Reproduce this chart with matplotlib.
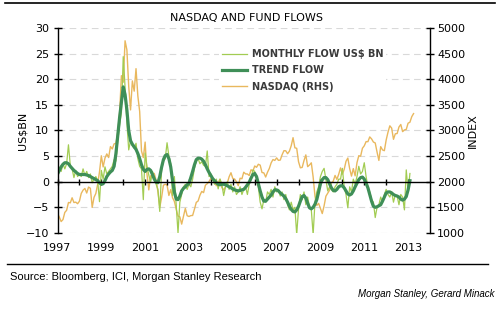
import numpy as np
import pandas as pd
import matplotlib
matplotlib.use("Agg")
import matplotlib.pyplot as plt
from matplotlib.lines import Line2D

# 월별 펀드 자금 흐름 (US$ bn), 1997-01 ~ 2013-02
monthly_flow = [
    0.0, 2.8, 2.0, 3.5, 2.5, 3.5, 7.2, 3.2, 2.5, 0.8, 2.2, 1.0,          # 1997
    1.5, 1.0, 2.5, 1.2, 2.0, 0.8, 1.5, -0.2, 0.5, 1.0, 0.2, -3.9,        # 1998
    2.2, 0.5, 2.9, 1.5, 2.0, 2.5, 3.0, 4.3, 4.0, 8.0, 11.0, 13.5,        # 1999
    24.4, 18.5, 11.5, 6.2, 8.0, 7.0, 6.5, 7.5, 4.5, 3.0, 2.5, -3.5,      # 2000
    5.6, 3.0, 1.3, -0.1, 2.0, 1.0, -0.5, -1.5, -5.8, 2.3, 4.0, 4.5,      # 2001
    7.6, 5.0, 3.5, -2.7, 1.0, -4.5, -10.0, -4.0, -2.5, -1.0, -0.5, -1.5, # 2002
    -0.5, -1.0, 0.5, 2.6, 4.0, 4.5, 3.5, 3.9, 3.2, 3.0, 6.0, 1.0,        # 2003
    1.5, 0.5, -0.5, 0.5, -1.4, 0.5, -0.5, -2.7, -1.0, 0.0, -1.5, -0.5,   # 2004
    -2.0, -1.0, -2.5, -2.0, -1.0, -2.5, -1.5, -1.0, -2.5, -0.5, 0.5, 2.3,  # 2005
    2.0, 0.5, -1.0, -4.0, -5.3, -3.5, -4.0, -2.0, -2.5, -1.5, -3.0, -1.0,  # 2006
    -2.0, -1.5, -2.8, -2.0, -3.5, -2.5, -4.5, -5.5, -4.0, -5.5, -5.0, -10.3,  # 2007
    -5.3, -2.5, -3.5, -2.0, -4.5, -3.0, -5.0, -5.5, -10.3, -4.0, -2.0, -1.0,  # 2008
    1.0, 2.0, 2.6, 0.4, -1.8, -1.0, -1.5, -2.0, -1.0, -0.5, 0.5, 0.5,    # 2009
    2.6, -1.0, -2.5, -5.1, -1.0, -2.0, 0.5, -0.5, 1.0, 3.0, 1.5, 2.0,    # 2010
    3.7, 1.0, -1.0, -2.0, -3.5, -4.0, -7.0, -5.0, -4.5, -3.0, -4.0, -2.5,  # 2011
    -1.5, -2.5, -3.0, -2.0, -4.0, -2.5, -2.8, -4.5, -2.5, -3.0, -5.5, 2.3,  # 2012
    -2.0, 1.6,                                                           # 2013
]

# 추세 (trend flow)
trend_flow = [
    1.5, 2.2, 2.9, 3.4, 3.7, 3.7, 3.5, 3.0, 2.6, 2.2, 1.9, 1.6,
    1.4, 1.4, 1.4, 1.4, 1.3, 1.2, 1.0, 0.8, 0.6, 0.4, 0.2, -0.2,
    -0.5, -0.4, 0.2, 1.0, 1.5, 1.9, 2.2, 3.0, 5.5, 9.0, 12.5, 15.5,
    18.5, 17.0, 14.0, 10.0, 8.0, 7.3, 6.8, 6.3, 5.5, 4.5, 3.3, 2.4,
    2.0, 2.4, 2.5, 2.2, 1.4, 0.5, -0.1, -0.2, 1.0, 2.8, 4.3, 5.1,
    5.3, 4.5, 2.9, 0.3, -2.0, -3.4, -3.5, -2.8, -1.8, -1.3, -1.0, -0.6,
    -0.3, 0.8, 2.0, 3.3, 4.3, 4.6, 4.6, 4.4, 4.0, 3.3, 2.5, 1.8,
    1.2, 0.6, 0.2, -0.2, -0.5, -0.6, -0.5, -0.5, -0.6, -0.8, -1.0, -1.2,
    -1.4, -1.6, -1.7, -1.8, -1.7, -1.6, -1.5, -1.1, -0.6, -0.1, 0.7, 1.4,
    1.6, 1.0, -0.4, -1.8, -3.0, -3.8, -3.8, -3.4, -3.0, -2.6, -2.0, -1.6,
    -1.6, -1.8, -2.2, -2.5, -2.8, -3.3, -4.0, -4.8, -5.4, -5.8, -5.9, -5.5,
    -4.8, -3.8, -2.9, -2.7, -3.2, -4.2, -5.1, -5.3, -5.0, -4.4, -3.5, -2.0,
    -0.4, 0.4, 0.8, 0.8, 0.4, -0.4, -1.2, -1.7, -1.8, -1.5, -1.0, -0.8,
    -0.8, -1.2, -1.8, -2.4, -2.6, -2.4, -1.8, -1.0, -0.3, 0.4, 0.8, 0.9,
    0.5, -0.3, -1.2, -2.5, -3.8, -4.8, -5.0, -4.9, -4.7, -4.5, -3.8, -3.0,
    -2.2, -2.0, -2.0, -2.2, -2.5, -2.7, -2.8, -3.0, -3.4, -3.6, -3.4, -2.9,
    -1.6, 0.2,
]

# 나스닥 지수 (RHS), 1997-01 ~ 2013-04
nasdaq = [
    1380, 1309, 1222, 1261, 1400, 1442, 1594, 1587, 1686, 1593, 1601, 1570,
    1619, 1771, 1835, 1868, 1779, 1895, 1872, 1499, 1694, 1771, 1950, 2193,
    2505, 2288, 2461, 2542, 2471, 2686, 2638, 2739, 2746, 2966, 3336, 4069,
    3940, 4750, 4573, 3861, 3401, 3966, 3767, 4206, 3673, 3370, 2598, 2471,
    2773, 2152, 1840, 2116, 2110, 2161, 2027, 1805, 1499, 1690, 1931, 1950,
    1934, 1731, 1845, 1688, 1616, 1463, 1328, 1315, 1172, 1330, 1479, 1336,
    1321, 1338, 1341, 1464, 1596, 1623, 1735, 1810, 1787, 1932, 1960, 2003,
    2066, 2030, 1994, 1920, 1987, 2048, 1887, 1838, 1897, 1975, 2097, 2175,
    2062, 2052, 1999, 1922, 2068, 2057, 2185, 2152, 2151, 2120, 2233, 2205,
    2306, 2281, 2340, 2323, 2179, 2172, 2091, 2184, 2258, 2367, 2432, 2415,
    2464, 2416, 2422, 2525, 2605, 2603, 2546, 2596, 2702, 2859, 2661, 2652,
    2390, 2271, 2279, 2413, 2523, 2293, 2326, 2368, 2092, 1721, 1536, 1577,
    1476, 1378, 1529, 1717, 1774, 1835, 1979, 2009, 2122, 2045, 2145, 2269,
    2147, 2238, 2398, 2461, 2257, 2109, 2255, 2114, 2369, 2507, 2498, 2653,
    2700, 2782, 2781, 2874, 2835, 2774, 2756, 2579, 2415, 2684, 2620, 2605,
    2814, 2967, 3091, 3046, 2827, 2935, 2940, 3067, 3116, 2977, 3010, 3020,
    3142, 3160, 3268, 3329,
]

year_labels = ["1997", "1999", "2001", "2003", "2005", "2007", "2009", "2011", "2013"]


def to_year(dates):
    return dates.year + (dates.month - 1) / 12.0


flow_x = to_year(pd.date_range("1997-01", periods=len(monthly_flow), freq="MS"))
trend_x = to_year(pd.date_range("1997-01", periods=len(trend_flow), freq="MS"))
nasdaq_x = to_year(pd.date_range("1997-01", periods=len(nasdaq), freq="MS"))

c_monthly = "#a2cc52"
c_trend = "#3f8f58"
c_nasdaq = "#e9b85e"

plt.rcParams["font.family"] = "DejaVu Sans"

fig = plt.figure(figsize=(5.0, 3.29), dpi=100)
ax = fig.add_axes([0.115, 0.292, 0.745, 0.623])
ax2 = ax.twinx()
ax.set_zorder(ax2.get_zorder() + 1)
ax.patch.set_visible(False)

# 나스닥 (오른쪽 축)
ax2.plot(nasdaq_x, nasdaq, color=c_nasdaq, lw=1.0)
ax2.set_ylim(1000, 5000)
ax2.set_yticks(np.arange(1000, 5001, 500))
for v in np.arange(1000, 5001, 500):
    if v != 2000:
        ax2.axhline(v, color="#d9d9d9", lw=0.8, ls=(0, (6, 4)), zorder=0)

# 자금 흐름 (왼쪽 축)
ax.plot(flow_x, monthly_flow, color=c_monthly, lw=0.9, label="MONTHLY FLOW US$ BN")
ax.plot(trend_x, trend_flow, color=c_trend, lw=2.3, label="TREND FLOW")
ax.plot([], [], color=c_nasdaq, lw=1.0, label="NASDAQ (RHS)")
ax.set_ylim(-10, 30)
ax.set_yticks(np.arange(-10, 31, 5))
ax.set_xlim(1997, 2014)

# 0 선에 x축 (연도 눈금)
ax.spines["bottom"].set_position(("data", 0))
ax.spines["bottom"].set_linewidth(1.0)
ax.set_xticks(np.arange(1997, 2014))
ax.tick_params(axis="x", direction="inout", length=5, width=1.0, labelbottom=False)
for s in ["top", "right"]:
    ax.spines[s].set_visible(False)
for s in ["top", "bottom", "left"]:
    ax2.spines[s].set_visible(False)

sec = ax.secondary_xaxis(0)
sec.set_xticks([int(y) for y in year_labels])
sec.set_xticklabels(year_labels)
sec.tick_params(length=0, labelsize=8, pad=7)
sec.spines["bottom"].set_visible(False)

ax.tick_params(axis="y", direction="inout", length=6, width=1.0, labelsize=8, pad=3)
ax2.tick_params(axis="y", direction="inout", length=6, width=1.0, labelsize=8, pad=2)
ax.spines["left"].set_linewidth(1.0)
ax2.spines["right"].set_linewidth(1.0)

ax.set_ylabel("US$BN", fontsize=8, labelpad=-1)
ax2.set_ylabel("INDEX", fontsize=8, labelpad=2)

leg = ax.legend(loc="upper left", bbox_to_anchor=(0.42, 0.935), fontsize=7,
                handlelength=2.6, handletextpad=0.5, labelspacing=0.65,
                frameon=True, framealpha=1.0, facecolor="white", edgecolor="none",
                borderpad=0.3, fancybox=False)
for t in leg.get_texts():
    t.set_fontweight("bold")
    t.set_color("#3a3a3a")

fig.text(0.494, 1 - 18 / 329, "NASDAQ AND FUND FLOWS", fontsize=8, ha="center", va="center")

fig.add_artist(Line2D([0.01, 0.99], [1 - 3 / 329, 1 - 3 / 329], color="black", lw=1.2))
fig.add_artist(Line2D([0.014, 0.976], [1 - 264 / 329, 1 - 264 / 329], color="black", lw=1.0))
fig.text(0.02, 1 - 277 / 329, "Source: Bloomberg, ICI, Morgan Stanley Research",
         fontsize=8, family="Liberation Sans", va="center")
fig.text(0.99, 1 - 294 / 329, "Morgan Stanley, Gerard Minack", fontsize=7,
         family="Liberation Sans", style="italic", ha="right", va="center")

fig.savefig("out.png", dpi=100)
